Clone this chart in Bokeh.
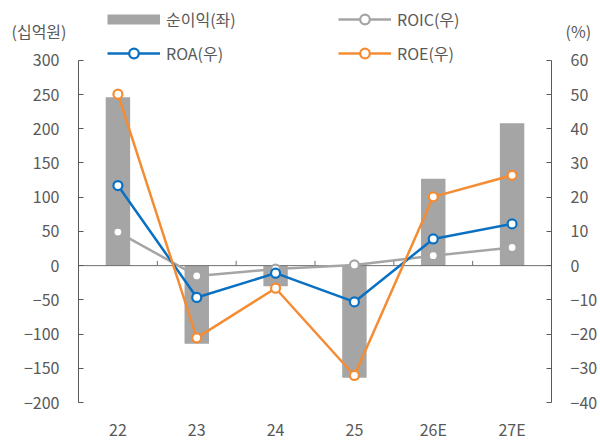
from bokeh.plotting import figure
from bokeh.models import (Range1d, LinearAxis, FixedTicker, Legend, LegendItem,
                          ColumnDataSource)
from bokeh.embed import file_html
from bokeh.resources import INLINE

cats = ["22", "23", "24", "25", "26E", "27E"]
net_income = [246, -114, -30, -164, 127, 208]
roic = [9.8, -3.0, -1.0, 0.2, 2.9, 5.3]
roa = [23.4, -9.3, -2.2, -10.6, 7.8, 12.2]
roe = [50.1, -21.1, -6.6, -32.1, 20.1, 26.4]
left_ticks = [-200, -150, -100, -50, 0, 50, 100, 150, 200, 250, 300]
right_ticks = [-40, -30, -20, -10, 0, 10, 20, 30, 40, 50, 60]
left_unit = "(십억원)"
right_unit = "(%)"

FONT = "Noto Sans CJK KR"
TXT = "#595959"
xs = list(range(len(cats)))

# layout: frame spans from canvas top to the -200 line; the axis span
# occupies the lower 343 px, the top 60 px hold the legend
TOP_PAD, AXIS_H = 60, 343
FRAME_H = TOP_PAD + AXIS_H
lmin, lmax = left_ticks[0], left_ticks[-1]
rmin, rmax = right_ticks[0], right_ticks[-1]
l_top = lmax + (lmax - lmin) * TOP_PAD / AXIS_H
r_top = rmax + (rmax - rmin) * TOP_PAD / AXIS_H
UNIT_Y_PX = 31  # unit captions: px below canvas top
l_unit_val = l_top - (l_top - lmin) * UNIT_Y_PX / FRAME_H
r_unit_val = r_top - (r_top - rmin) * UNIT_Y_PX / FRAME_H

p = figure(width=600, height=443, output_backend="svg", toolbar_location=None,
           x_range=Range1d(-0.5, len(cats) - 0.5), y_range=Range1d(lmin, l_top),
           min_border_left=78, min_border_right=47, min_border_top=0,
           min_border_bottom=40)
p.extra_y_ranges = {"pct": Range1d(rmin, r_top)}
p.outline_line_color = None
p.grid.visible = False

src = ColumnDataSource(dict(x=xs, ni=net_income, roic=roic, roa=roa, roe=roe))

bars = p.vbar(x="x", top="ni", bottom=0, width=0.31, source=src,
              fill_color="#a5a5a5", line_color=None)

# zero line and category separator ticks
p.line(x=[-0.5, len(cats) - 0.5], y=[0, 0], line_color="#6e6e6e", line_width=1)
p.segment(x0=[i + 0.5 for i in xs[:-1]], y0=[0] * (len(cats) - 1),
          x1=[i + 0.5 for i in xs[:-1]], y1=[7] * (len(cats) - 1),
          line_color="#6e6e6e", line_width=1)

def series(col, color):
    l = p.line(x="x", y=col, source=src, y_range_name="pct",
               line_color=color, line_width=2.5)
    s = p.scatter(x="x", y=col, source=src, y_range_name="pct", size=9,
                  marker="circle", fill_color="white", line_color=color,
                  line_width=2.2)
    return l, s

l_roic, s_roic = series("roic", "#a5a5a5")
l_roa, s_roa = series("roa", "#0a70c2")
l_roe, s_roe = series("roe", "#f48c33")

# legend swatch for the bars (a 10 px thick line gives the flat grey block)
nan = float("nan")
bar_swatch = p.line(x=[nan], y=[nan], line_color="#a5a5a5", line_width=10)

# axes
xa = p.xaxis[0]
xa.ticker = FixedTicker(ticks=xs)
xa.major_label_overrides = {i: c for i, c in zip(xs, cats)}
xa.axis_line_color = None
xa.major_tick_line_color = None
xa.minor_tick_line_color = None
xa.major_label_standoff = 8

ya = p.yaxis[0]
ya.ticker = FixedTicker(ticks=left_ticks)
ya.bounds = (lmin, lmax)

ra = LinearAxis(y_range_name="pct", ticker=FixedTicker(ticks=right_ticks),
                bounds=(rmin, rmax))
p.add_layout(ra, "right")

for ax in (ya, ra):
    ax.axis_line_color = "#595959"
    ax.major_tick_line_color = "#595959"
    ax.major_tick_in = 5
    ax.major_tick_out = 0
    ax.minor_tick_line_color = None
    ax.major_label_standoff = 19

# unit captions as single-tick axes stacked outside the value axes
ua_l = LinearAxis(ticker=FixedTicker(ticks=[l_unit_val]),
                  major_label_overrides={l_unit_val: left_unit})
ua_r = LinearAxis(y_range_name="pct", ticker=FixedTicker(ticks=[r_unit_val]),
                  major_label_overrides={r_unit_val: right_unit})
for ax, so in ((ua_l, -46), (ua_r, -35)):
    ax.axis_line_color = None
    ax.major_tick_line_color = None
    ax.minor_tick_line_color = None
    ax.major_tick_in = 0
    ax.major_tick_out = 0
    try:
        ax.major_label_standoff = so
    except Exception:
        ax.major_label_standoff = 0
p.add_layout(ua_l, "left")
p.add_layout(ua_r, "right")

for ax in (xa, ya, ra, ua_l, ua_r):
    ax.major_label_text_font = FONT
    ax.major_label_text_font_size = "16px"
    ax.major_label_text_color = TXT

legend = Legend(items=[
    LegendItem(label="순이익(좌)", renderers=[bar_swatch]),
    LegendItem(label="ROA(우)", renderers=[l_roa, s_roa]),
    LegendItem(label="ROIC(우)", renderers=[l_roic, s_roic]),
    LegendItem(label="ROE(우)", renderers=[l_roe, s_roe]),
], ncols=2, location=(29, FRAME_H - 8 - 58), glyph_width=53, glyph_height=24,
    label_height=20, label_width=162, label_standoff=6, spacing=10,
    padding=0, margin=0, border_line_color=None, background_fill_alpha=0,
    label_text_font=FONT, label_text_font_size="16px", label_text_color=TXT)
p.add_layout(legend, "center")

open("out.html", "w").write(file_html(p, INLINE))
